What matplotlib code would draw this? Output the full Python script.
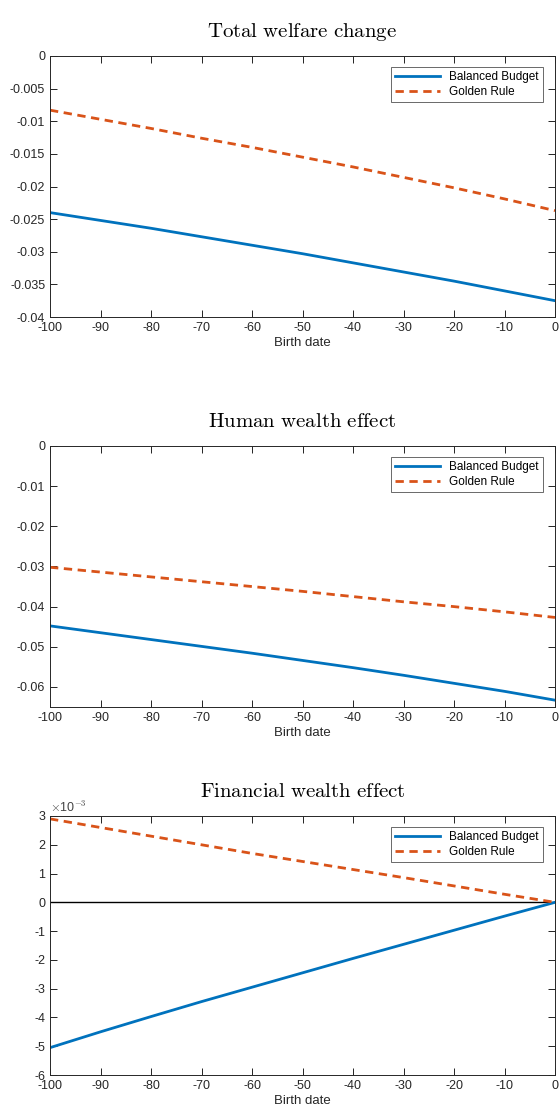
import matplotlib
matplotlib.use("Agg")
import matplotlib.pyplot as plt
import matplotlib.ticker as mt

plt.rcParams['font.family'] = ['Liberation Sans', 'DejaVu Sans']
plt.rcParams['axes.unicode_minus'] = False
plt.rcParams['mathtext.fontset'] = 'cm'

x = [-100, -90, -80, -70, -60, -50, -40, -30, -20, -10, 0]
p1_bb = [-0.0240, -0.0252, -0.0264, -0.0277, -0.0290, -0.0303, -0.0317, -0.0331, -0.0345, -0.0360, -0.0375]
p1_gr = [-0.0083, -0.0097, -0.0111, -0.0126, -0.0140, -0.0155, -0.0170, -0.0186, -0.0202, -0.0219, -0.0237]
p2_bb = [-0.0448, -0.0465, -0.0482, -0.0499, -0.0516, -0.0534, -0.0552, -0.0571, -0.0591, -0.0611, -0.0633]
p2_gr = [-0.0302, -0.0314, -0.0326, -0.0338, -0.0350, -0.0362, -0.0375, -0.0388, -0.0400, -0.0413, -0.0427]
p3_bb = [-5.05e-3, -4.5e-3, -3.97e-3, -3.45e-3, -2.95e-3, -2.45e-3, -1.95e-3, -1.46e-3, -0.97e-3, -0.48e-3, 0.0]
p3_gr = [2.9e-3, 2.6e-3, 2.3e-3, 2.0e-3, 1.7e-3, 1.42e-3, 1.14e-3, 0.86e-3, 0.57e-3, 0.28e-3, 0.0]

titles = ['Total welfare change', 'Human wealth effect', 'Financial wealth effect']
W, H = 560, 1115
fig = plt.figure(figsize=(W/100, H/100), dpi=100)
boxes = [(56, 317), (446, 707), (816, 1075)]
ylims = [(-0.04, 0), (-0.065, 0), (-6e-3, 3e-3)]
yticks = [[-0.04 + 0.005*i for i in range(9)], [-0.06 + 0.01*i for i in range(7)], [i*1e-3 for i in range(-6, 4)]]
data = [(p1_bb, p1_gr), (p2_bb, p2_gr), (p3_bb, p3_gr)]
blue, red = '#0072BD', '#D95319'
for i, (t, b) in enumerate(boxes):
    ax = fig.add_axes([50/W, 1 - b/H, 505/W, (b - t)/H])
    bb, gr = data[i]
    if i == 2:
        ax.axhline(0, color='black', lw=1)
    ax.plot(x, bb, color=blue, lw=2, label='Balanced Budget')
    ax.plot(x, gr, color=red, lw=2, ls='--', dashes=(3, 2), label='Golden Rule')
    ax.set_xlim(-100, 0)
    ax.set_ylim(*ylims[i])
    ax.set_xticks(x)
    ax.set_yticks(yticks[i])
    if i == 2:
        ax.yaxis.set_major_formatter(mt.FuncFormatter(lambda v, p: '%d' % round(v*1000)))
        ax.text(0, 1.005, r'$\times$10$^{-3}$', transform=ax.transAxes, fontsize=9,
                va='bottom', color='#444444')
    else:
        ax.yaxis.set_major_formatter(mt.FuncFormatter(lambda v, p: '%g' % round(v, 4)))
    ax.tick_params(direction='in', top=True, right=True, labelsize=9, length=5, width=0.6,
                   labelcolor='#262626')
    for s in ax.spines.values():
        s.set_linewidth(0.7)
        s.set_color('#262626')
    ax.set_xlabel('Birth date', fontsize=9.5, labelpad=2, color='#262626')
    ax.set_title(r'$\mathrm{%s}$' % titles[i].replace(' ', r'\ '), fontsize=15, pad=14)
    leg = ax.legend(loc='upper right', fontsize=8.5, fancybox=False, edgecolor='#262626',
                    handlelength=3.8, borderpad=0.35, labelspacing=0.25,
                    bbox_to_anchor=(1 - 12/505, 1 - 11/(b - t)), borderaxespad=0)
    leg.get_frame().set_linewidth(0.6)
fig.savefig('out.png', dpi=100)
